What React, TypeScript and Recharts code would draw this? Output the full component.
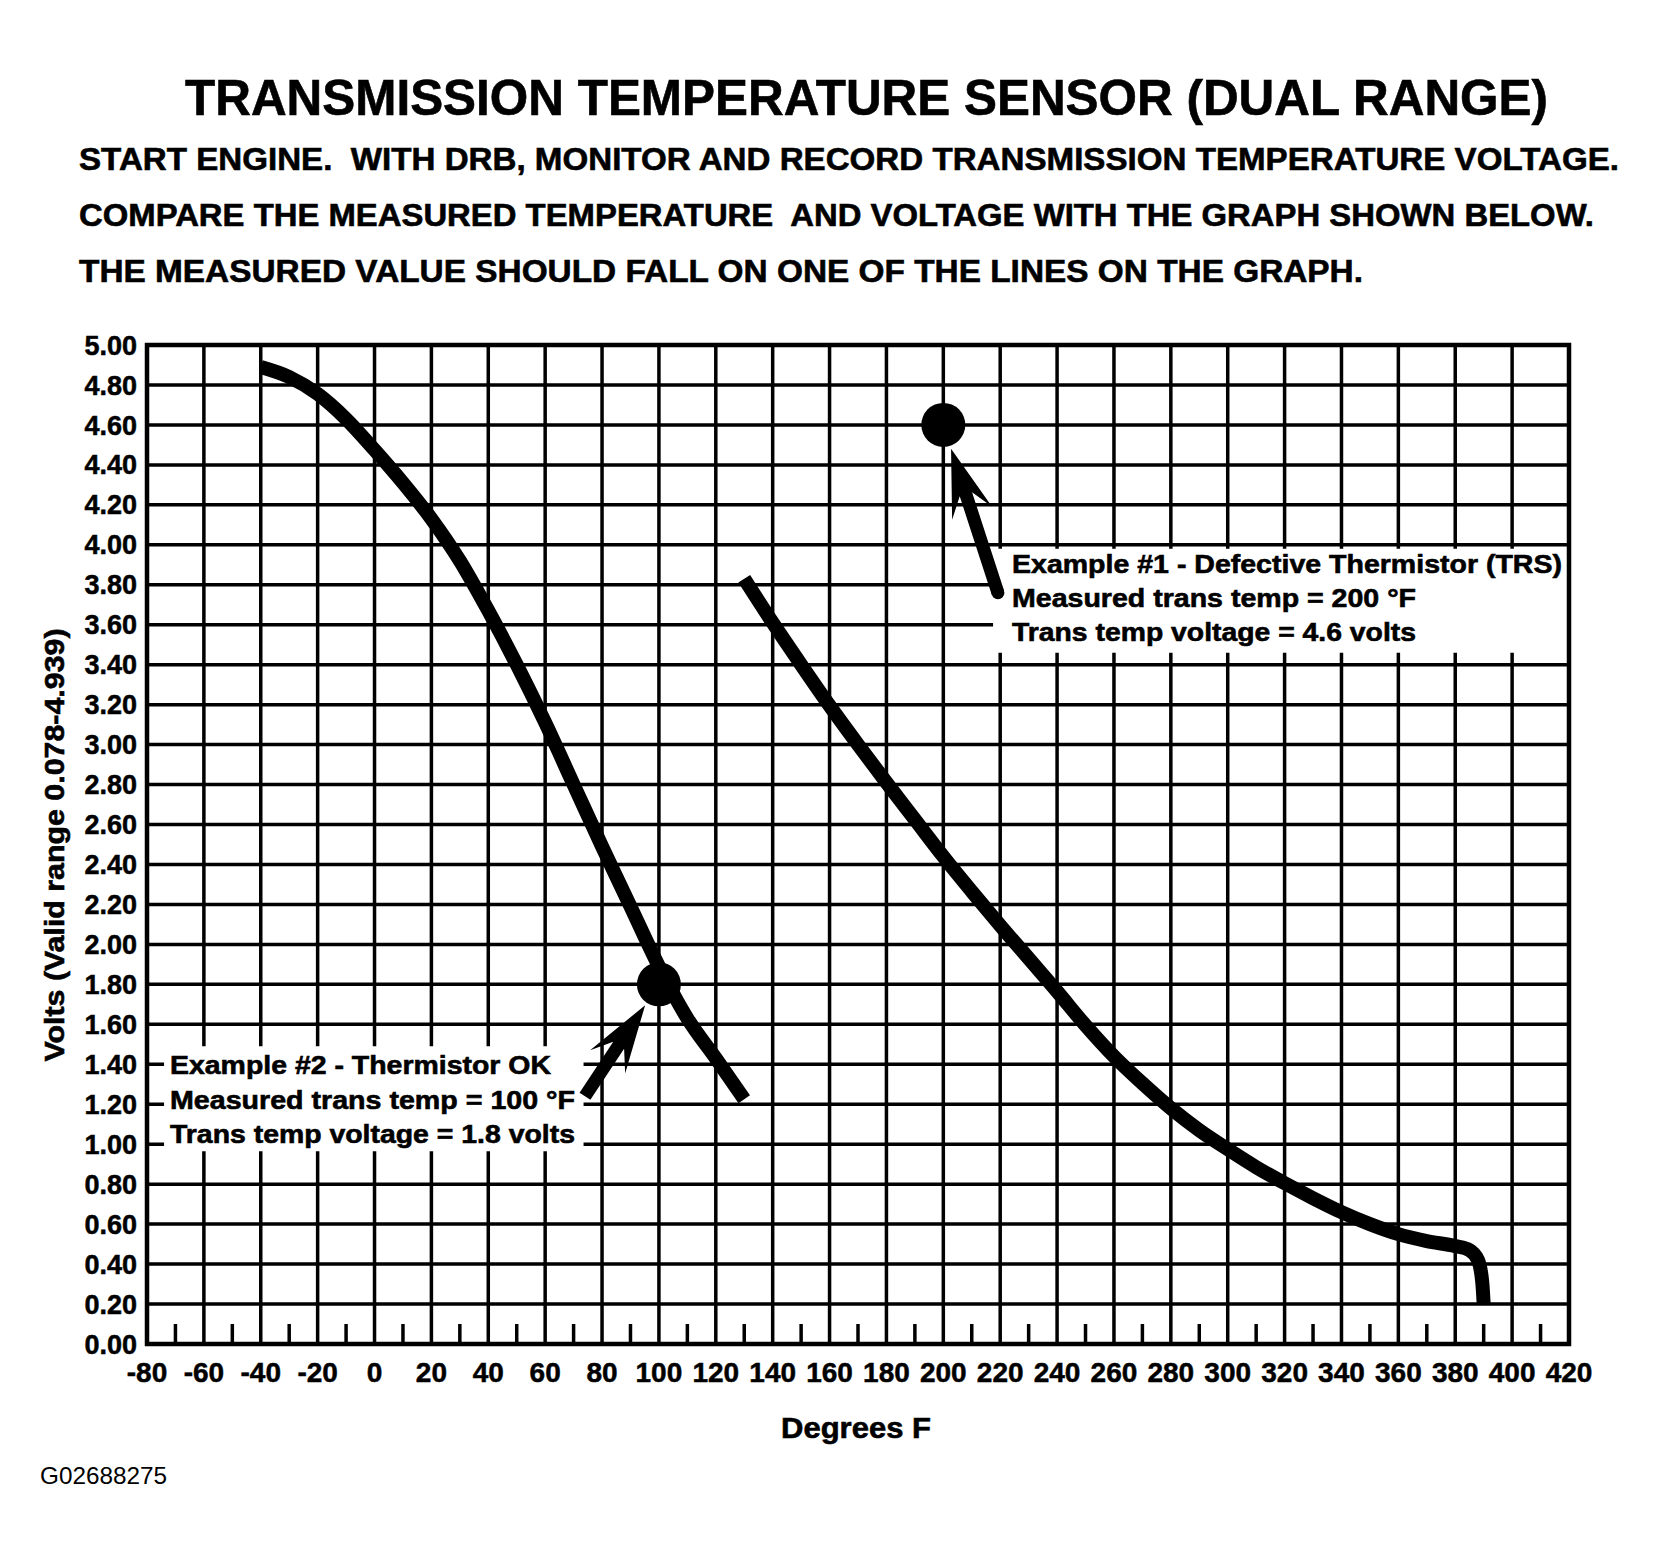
import { LineChart, Line, XAxis, YAxis, CartesianGrid, ReferenceArea, ReferenceLine, ReferenceDot } from "recharts"

const WIDTH = 1657
const HEIGHT = 1562
const FONT = '"Liberation Sans", Arial, Helvetica, sans-serif'

const TEMP_TICKS = [-80, -60, -40, -20, 0, 20, 40, 60, 80, 100, 120, 140, 160, 180, 200, 220, 240, 260, 280, 300, 320, 340, 360, 380, 400, 420]
const VOLT_TICKS = [0, 0.2, 0.4, 0.6, 0.8, 1, 1.2, 1.4, 1.6, 1.8, 2, 2.2, 2.4, 2.6, 2.8, 3, 3.2, 3.4, 3.6, 3.8, 4, 4.2, 4.4, 4.6, 4.8, 5]

// cold range thermistor curve
const LOW_TEMPS = [-40, -30, -20, -10, 0, 10, 20, 30, 40, 50, 60, 70, 80, 90, 100, 110, 120, 130]
const LOW_VOLTS = [4.89, 4.84, 4.755, 4.63, 4.475, 4.31, 4.13, 3.92, 3.67, 3.4, 3.11, 2.8, 2.49, 2.19, 1.89, 1.63, 1.43, 1.225]

// hot range thermistor curve
const HIGH_TEMPS = [130, 140, 150, 160, 170, 180, 190, 200, 210, 220, 230, 240, 250, 260, 270, 280, 290, 300, 310, 320, 330, 340, 350, 360, 370, 380, 385, 388, 389.5, 390]
const HIGH_VOLTS = [3.83, 3.61, 3.4, 3.195, 3.0, 2.81, 2.625, 2.44, 2.265, 2.095, 1.93, 1.765, 1.595, 1.44, 1.305, 1.18, 1.07, 0.975, 0.885, 0.805, 0.73, 0.66, 0.6, 0.55, 0.515, 0.49, 0.47, 0.42, 0.31, 0.2]

// worked examples: defective sensor, good sensor
const EXAMPLE_TITLES = ["Example #1 - Defective Thermistor (TRS)", "Example #2 - Thermistor OK"]
const EXAMPLE_TEMPS = [200, 100]
const EXAMPLE_VOLTS = [4.6, 1.8]

const INSTRUCTIONS = [
    "START ENGINE.  WITH DRB, MONITOR AND RECORD TRANSMISSION TEMPERATURE VOLTAGE.",
    "COMPARE THE MEASURED TEMPERATURE  AND VOLTAGE WITH THE GRAPH SHOWN BELOW.",
    "THE MEASURED VALUE SHOULD FALL ON ONE OF THE LINES ON THE GRAPH.",
]

const lowRows = LOW_TEMPS.map((t, i) => ({ t, v: LOW_VOLTS[i] }))
const highRows = HIGH_TEMPS.map((t, i) => ({ t, v: HIGH_VOLTS[i] }))
const minorTicks = TEMP_TICKS.slice(0, -1).map((t) => t + 10)

const exampleLines = (i: number) => [
    EXAMPLE_TITLES[i],
    `Measured trans temp = ${EXAMPLE_TEMPS[i]} °F`,
    `Trans temp voltage = ${EXAMPLE_VOLTS[i]} volts`,
]

const DOT_R = 22
const TICK_STYLE = { fill: "#000", stroke: "#000", strokeWidth: 0.5, fontWeight: 700, fontFamily: FONT }

interface ArrowProps {
    x1?: number
    y1?: number
    x2?: number
    y2?: number
    roundTail?: boolean
}

// barbed pointer from the caption toward an example dot
const Arrow = ({ x1 = 0, y1 = 0, x2 = 0, y2 = 0, roundTail }: ArrowProps) => {
    const dx = x2 - x1
    const dy = y2 - y1
    const len = Math.hypot(dx, dy) || 1
    const ux = dx / len
    const uy = dy / len
    const nx = -uy
    const ny = ux
    const gap = DOT_R + 3
    const tx = x2 - ux * gap
    const ty = y2 - uy * gap
    const at = (along: number, side: number) => `${tx - ux * along + nx * side},${ty - uy * along + ny * side}`
    const shaft = 6.5
    const tail = len - gap
    const points = [
        at(tail, shaft),
        at(48, shaft),
        at(68, 21),
        at(0, 0),
        at(68, -21),
        at(48, -shaft),
        at(tail, -shaft),
    ].join(" ")
    return (
        <g>
            <polygon points={points} fill="#000" />
            {roundTail && <circle cx={x1} cy={y1} r={shaft} fill="#000" />}
        </g>
    )
}

const TextLine = ({ x, y, size, width, children, weight = 700, anchor = "start" }: {
    x: number; y: number; size: number; width: number; children: string; weight?: number; anchor?: "start" | "middle"
}) => (
    <text
        x={x}
        y={y}
        fontSize={size}
        fontWeight={weight}
        fontFamily={FONT}
        fill="#000"
        stroke={weight > 400 ? "#000" : "none"}
        strokeWidth={0.6}
        textAnchor={anchor}
        textLength={width}
        lengthAdjust="spacingAndGlyphs"
        style={{ whiteSpace: "pre" }}
    >
        {children}
    </text>
)

export default function App() {
    return (
        <div style={{ position: "absolute", left: 0, top: 0, width: WIDTH, height: HEIGHT, background: "#fff" }}>
            <LineChart width={WIDTH} height={HEIGHT} margin={{ top: 345, right: 88, bottom: 158, left: 47 }}>
                <CartesianGrid stroke="#000" strokeWidth={3.5} />
                <XAxis
                    type="number"
                    dataKey="t"
                    domain={[-80, 420]}
                    ticks={TEMP_TICKS}
                    interval={0}
                    allowDataOverflow
                    height={60}
                    axisLine={false}
                    tickLine={false}
                    tickSize={0}
                    tickMargin={18}
                    tick={{ ...TICK_STYLE, fontSize: 28 }}
                />
                <YAxis
                    type="number"
                    domain={[0, 5]}
                    ticks={VOLT_TICKS}
                    interval={0}
                    allowDataOverflow
                    width={100}
                    axisLine={false}
                    tickLine={false}
                    tickSize={0}
                    tickMargin={10}
                    tickFormatter={(v: number) => v.toFixed(2)}
                    tick={{ ...TICK_STYLE, fontSize: 27 }}
                />

                {/* blank panels behind the captions */}
                <ReferenceArea x1={-74} x2={73.5} y1={0.965} y2={1.49} fill="#fff" fillOpacity={1} stroke="none" />
                <ReferenceArea x1={217.5} x2={420} y1={3.46} y2={3.98} fill="#fff" fillOpacity={1} stroke="none" />

                {minorTicks.map((t) => (
                    <ReferenceLine
                        key={`minor-${t}`}
                        segment={[{ x: t, y: 0 }, { x: t, y: 0.1 }]}
                        stroke="#000"
                        strokeWidth={3.5}
                    />
                ))}

                <ReferenceArea x1={-80} x2={420} y1={0} y2={5} fill="none" stroke="#000" strokeWidth={4.5} />

                <Line data={lowRows} dataKey="v" type="monotone" stroke="#000" strokeWidth={14} dot={false} isAnimationActive={false} />
                <Line data={highRows} dataKey="v" type="monotone" stroke="#000" strokeWidth={14} dot={false} isAnimationActive={false} />

                {EXAMPLE_TEMPS.map((t, i) => (
                    <ReferenceDot key={`ex-${i}`} x={t} y={EXAMPLE_VOLTS[i]} r={DOT_R} fill="#000" stroke="none" />
                ))}

                <ReferenceLine
                    segment={[{ x: 219.2, y: 3.76 }, { x: EXAMPLE_TEMPS[0], y: EXAMPLE_VOLTS[0] }]}
                    shape={(p: ArrowProps) => <Arrow {...p} roundTail />}
                />
                <ReferenceLine
                    segment={[{ x: 74, y: 1.24 }, { x: EXAMPLE_TEMPS[1], y: EXAMPLE_VOLTS[1] }]}
                    shape={(p: ArrowProps) => <Arrow {...p} />}
                />
            </LineChart>

            <svg
                width={WIDTH}
                height={HEIGHT}
                style={{ position: "absolute", left: 0, top: 0, pointerEvents: "none" }}
            >
                <TextLine x={185} y={115} size={50} width={1363}>TRANSMISSION TEMPERATURE SENSOR (DUAL RANGE)</TextLine>
                <TextLine x={79} y={170} size={32} width={1540}>{INSTRUCTIONS[0]}</TextLine>
                <TextLine x={79} y={226} size={32} width={1515}>{INSTRUCTIONS[1]}</TextLine>
                <TextLine x={79} y={282} size={32} width={1284}>{INSTRUCTIONS[2]}</TextLine>

                {exampleLines(0).map((line, i) => (
                    <TextLine key={line} x={1012} y={573 + i * 34} size={26} width={i === 0 ? 550 : 404}>{line}</TextLine>
                ))}
                {exampleLines(1).map((line, i) => (
                    <TextLine key={line} x={170} y={1074 + i * 34.5} size={26} width={i === 0 ? 381 : 405}>{line}</TextLine>
                ))}

                <g transform="translate(64,845) rotate(-90)">
                    <TextLine x={0} y={0} size={28} width={433} anchor="middle">Volts (Valid range 0.078-4.939)</TextLine>
                </g>
                <TextLine x={856} y={1438} size={30} width={150} anchor="middle">Degrees F</TextLine>
                <TextLine x={40} y={1484} size={24} width={127} weight={400}>G02688275</TextLine>
            </svg>
        </div>
    )
}
